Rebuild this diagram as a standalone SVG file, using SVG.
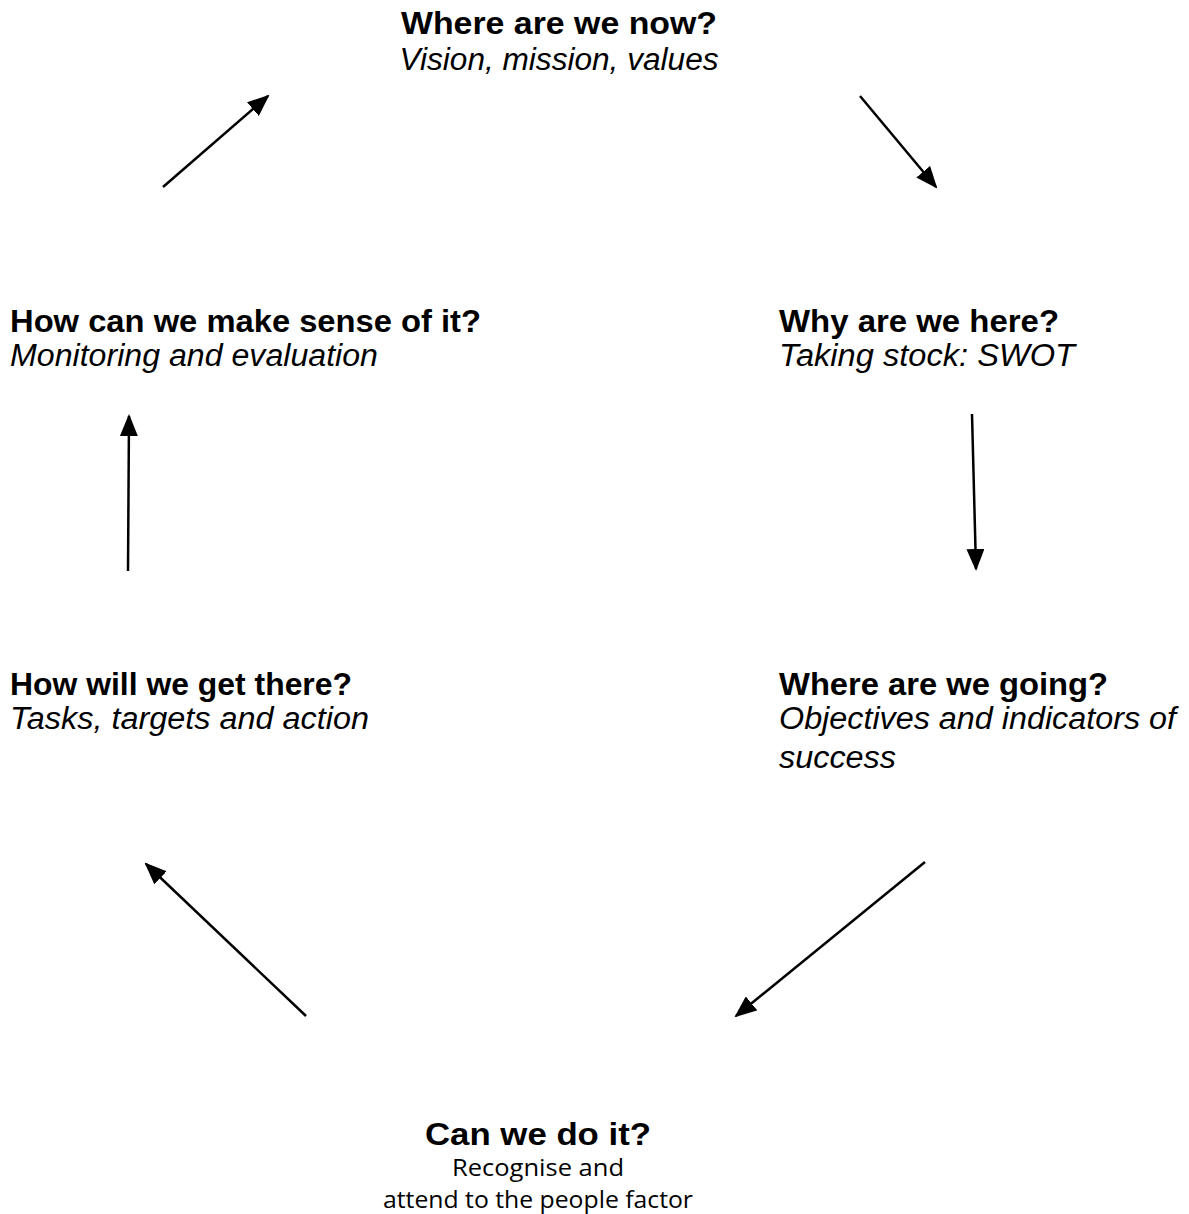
<svg xmlns="http://www.w3.org/2000/svg" width="1189" height="1214" viewBox="0 0 1189 1214">
<defs>
<style>
.b{font-family:"Liberation Sans",Arial,sans-serif;font-weight:bold;font-size:31px;fill:#000}
.i{font-family:"Liberation Sans",Arial,sans-serif;font-style:italic;font-size:31px;fill:#000}
.c{font-family:"Open Sans","Noto Sans",sans-serif;font-size:23px;fill:#000}
.ln{stroke:#000;stroke-width:2.5;fill:none;marker-end:url(#ah)}
</style>
<marker id="ah" markerUnits="userSpaceOnUse" markerWidth="22" markerHeight="18" refX="20" refY="9" orient="auto">
<path d="M0,0 L22,9 L0,18 Z" fill="#000"/>
</marker>
</defs>
<rect width="1189" height="1214" fill="#fff"/>
<g id="n-now">
<text class="b" x="559" y="34" text-anchor="middle" textLength="316" lengthAdjust="spacingAndGlyphs">Where are we now?</text>
<text class="i" x="559" y="70" text-anchor="middle" textLength="319" lengthAdjust="spacingAndGlyphs">Vision, mission, values</text>
</g>
<g id="n-why">
<text class="b" x="779" y="332" textLength="280" lengthAdjust="spacingAndGlyphs">Why are we here?</text>
<text class="i" x="779" y="366" textLength="296" lengthAdjust="spacingAndGlyphs">Taking stock: SWOT</text>
</g>
<g id="n-going">
<text class="b" x="779" y="695" textLength="329" lengthAdjust="spacingAndGlyphs">Where are we going?</text>
<text class="i" x="779" y="729" textLength="397" lengthAdjust="spacingAndGlyphs">Objectives and indicators of</text>
<text class="i" x="779" y="768" textLength="117" lengthAdjust="spacingAndGlyphs">success</text>
</g>
<g id="n-can">
<text class="b" x="538" y="1145" text-anchor="middle" textLength="226" lengthAdjust="spacingAndGlyphs">Can we do it?</text>
<text class="c" x="538" y="1176" text-anchor="middle" textLength="172" lengthAdjust="spacingAndGlyphs">Recognise and</text>
<text class="c" x="538" y="1208" text-anchor="middle" textLength="310" lengthAdjust="spacingAndGlyphs">attend to the people factor</text>
</g>
<g id="n-how">
<text class="b" x="10" y="695" textLength="342" lengthAdjust="spacingAndGlyphs">How will we get there?</text>
<text class="i" x="10" y="729" textLength="359" lengthAdjust="spacingAndGlyphs">Tasks, targets and action</text>
</g>
<g id="n-sense">
<text class="b" x="10" y="332" textLength="471" lengthAdjust="spacingAndGlyphs">How can we make sense of it?</text>
<text class="i" x="10" y="366" textLength="368" lengthAdjust="spacingAndGlyphs">Monitoring and evaluation</text>
</g>
<g id="connectors">
<line class="ln" x1="163" y1="187" x2="268" y2="96"/>
<line class="ln" x1="860" y1="96" x2="936" y2="187"/>
<line class="ln" x1="972" y1="414" x2="976" y2="569"/>
<line class="ln" x1="925" y1="862" x2="736" y2="1016"/>
<line class="ln" x1="306" y1="1016" x2="146" y2="864"/>
<line class="ln" x1="128" y1="571" x2="129" y2="416"/>
</g>
</svg>
